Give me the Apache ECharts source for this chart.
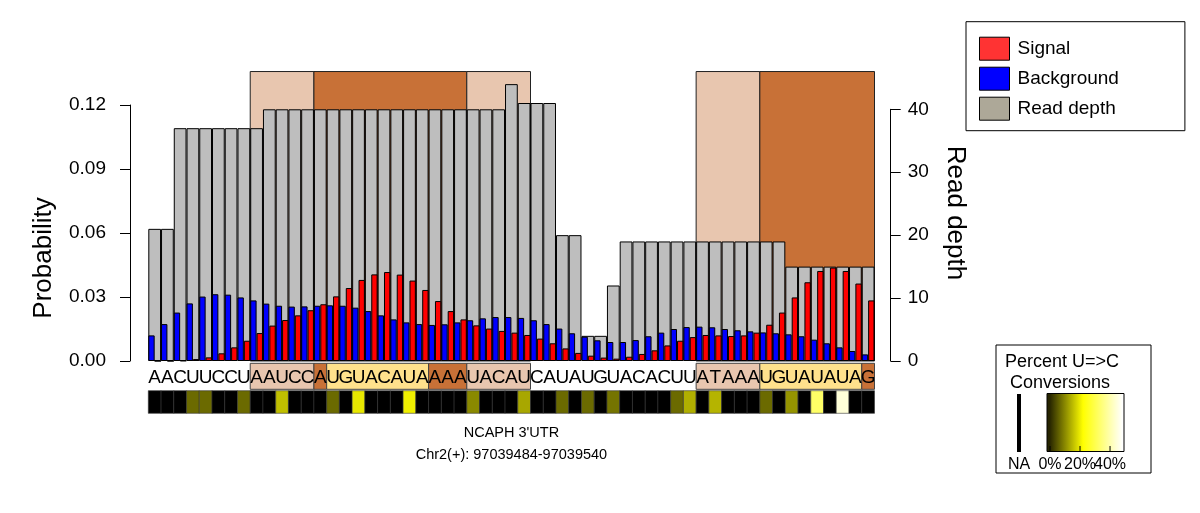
<!DOCTYPE html>
<html>
<head>
<meta charset="utf-8">
<title>NCAPH 3'UTR</title>
<script src="https://cdn.jsdelivr.net/npm/echarts@6/dist/echarts.min.js"></script>
<style>
  html, body { margin: 0; padding: 0; background: #fff; }
  #main { width: 1200px; height: 513px; }
</style>
</head>
<body>
<div id="main"></div>
<script>
// sequence of the window, one letter per position
var seqText = 'AACUUCCU' + 'AAUCC' + 'A' + 'UGUACAUA' + 'AAA' + 'UACAU' +
              'CAUAUGUACACUU' + 'ATAAA' + 'UGUAUAUA' + 'G';
var seqLetters = seqText.split('');
var categories = seqLetters.map(function (s, i) { return String(i); });

// read depth (right axis)
var readDepth = [21, 21, 37, 37, 37, 37, 37, 37, 37, 40,
                 40, 40, 40, 40, 40, 40, 40, 40, 40, 40,
                 40, 40, 40, 40, 40, 40, 40, 40, 44, 41,
                 41, 41, 20, 20, 4, 4, 12, 19, 19, 19,
                 19, 19, 19, 19, 19, 19, 19, 19, 19, 19,
                 15, 15, 15, 15, 15, 15, 15];

// probability, background (blue)
var background = [0.0120, 0.0173, 0.0227, 0.0270, 0.0302, 0.0313, 0.0311, 0.0298, 0.0284, 0.0269,
                  0.0259, 0.0255, 0.0256, 0.0259, 0.0261, 0.0259, 0.0250, 0.0234, 0.0214, 0.0195,
                  0.0181, 0.0173, 0.0169, 0.0172, 0.0181, 0.0191, 0.0200, 0.0206, 0.0206, 0.0202,
                  0.0191, 0.0173, 0.0152, 0.0130, 0.0114, 0.0097, 0.0089, 0.0089, 0.0098, 0.0116,
                  0.0133, 0.0150, 0.0159, 0.0161, 0.0158, 0.0150, 0.0144, 0.0139, 0.0134, 0.0130,
                  0.0125, 0.0116, 0.0100, 0.0083, 0.0064, 0.0047, 0.0031];

// probability, signal (red)
var signal = [0.0000, 0.0000, 0.0002, 0.0009, 0.0017, 0.0036, 0.0064, 0.0095, 0.0131, 0.0166,
              0.0192, 0.0214, 0.0238, 0.0266, 0.0303, 0.0342, 0.0380, 0.0406, 0.0417, 0.0405,
              0.0377, 0.0333, 0.0281, 0.0234, 0.0195, 0.0167, 0.0152, 0.0141, 0.0133, 0.0122,
              0.0105, 0.0083, 0.0059, 0.0038, 0.0025, 0.0016, 0.0011, 0.0020, 0.0033, 0.0050,
              0.0073, 0.0095, 0.0112, 0.0122, 0.0120, 0.0117, 0.0120, 0.0133, 0.0170, 0.0227,
              0.0298, 0.0369, 0.0422, 0.0438, 0.0422, 0.0363, 0.0284];

// percent U=>C conversions, null = NA
var convPct = [null, null, null, 7.0, 7.0, null, null, 7.0, null, null,
               15.6, null, null, null, 7.0, null, 19.7, null, null, null,
               20.5, null, null, null, null, 10.1, null, null, null, 13.2,
               null, null, 7.0, null, 7.0, null, 8.0, null, null, null,
               null, 7.0, 14.0, null, 14.5, null, null, null, 7.0, null,
               11.3, null, 32.4, null, 44.0, null, null];

// boxes: [first pos, last pos, kind]  kind 0 = light, 1 = dark, 2 = yellow
var motifBoxes = [[8, 12, 0], [13, 24, 1], [25, 29, 0], [43, 47, 0], [48, 56, 1]];
var seqBoxes = [[8, 12, 0], [13, 13, 1], [14, 21, 2], [22, 24, 1], [25, 29, 0],
                [43, 47, 0], [48, 55, 2], [56, 56, 1]];
var boxColors = ['#E8C6AF', '#C87137', '#FFE18C'];
var boxTop = 46;

var probTicks = [0, 0.03, 0.06, 0.09, 0.12];
var depthTicks = [0, 10, 20, 30, 40];
var convTicks = [0, 20, 40];

// colour ramp for conversions
var rampStops = [[0, [38, 36, 0]], [22, [255, 255, 0]], [48, [255, 255, 255]]];
function convColor(p) {
  if (p == null) return '#000000';
  if (p <= rampStops[0][0]) return 'rgb(' + rampStops[0][1].join(',') + ')';
  for (var i = 1; i < rampStops.length; i++) {
    if (p <= rampStops[i][0]) {
      var a = rampStops[i - 1], b = rampStops[i];
      var t = (p - a[0]) / (b[0] - a[0]);
      var c = a[1].map(function (v, k) { return Math.round(v + (b[1][k] - v) * t); });
      return 'rgb(' + c.join(',') + ')';
    }
  }
  return 'rgb(' + rampStops[rampStops.length - 1][1].join(',') + ')';
}

var FONT = '"Liberation Sans", Arial, Helvetica, sans-serif';
var L = 148.3, R = 1200 - 874.5;

function spanRect(api, start, end, top, bottom) {
  var bw = api.size([1, 0])[0];
  var p0 = api.coord([start, top]);
  var p1 = api.coord([end, bottom]);
  return { x: p0[0] - bw / 2, y: p0[1], width: p1[0] - p0[0] + bw, height: p1[1] - p0[1] };
}

function label(text, x, y, size, rot) {
  return { type: 'text', x: x, y: y, rotation: rot || 0,
    style: { text: text, font: size + 'px ' + FONT, fill: '#000',
      align: 'center', verticalAlign: 'middle', textAlign: 'center', textVerticalAlign: 'middle' } };
}

// legend for conversions (drawn by hand)
var legX0 = 1047, legX1 = 1124, legMin = -2, legMax = 49.3;
function legX(p) { return legX0 + (p - legMin) / (legMax - legMin) * (legX1 - legX0); }
var gradStops = rampStops.map(function (s) {
  return { offset: (s[0] - legMin) / (legMax - legMin), color: 'rgb(' + s[1].join(',') + ')' };
});
gradStops.unshift({ offset: 0, color: convColor(legMin) });
gradStops.push({ offset: 1, color: convColor(legMax) });

var graphics = [
  label('Probability', 44, 258, 26, Math.PI / 2),
  label('Read depth', 955, 213, 26, -Math.PI / 2),
  label("NCAPH 3'UTR", 511.4, 433, 14.5),
  label('Chr2(+): 97039484-97039540', 511.4, 455, 14.5),
  { type: 'rect', shape: { x: 996, y: 345, width: 155, height: 128 },
    style: { fill: '#fff', stroke: '#000', lineWidth: 1 } },
  label('Percent U=>C', 1062, 362, 18),
  label('Conversions', 1060, 383, 18),
  { type: 'rect', shape: { x: 1017, y: 394, width: 4, height: 58 },
    style: { fill: '#000' } },
  { type: 'rect', shape: { x: legX0, y: 393.5, width: legX1 - legX0, height: 58 },
    style: { fill: { type: 'linear', x: 0, y: 0, x2: 1, y2: 0, colorStops: gradStops }, stroke: '#000', lineWidth: 1 } },
  label('NA', 1019, 465, 16)
];
convTicks.forEach(function (p) {
  graphics.push({ type: 'line', shape: { x1: legX(p), y1: 451.5, x2: legX(p), y2: 446 },
    style: { stroke: '#000', lineWidth: 1 } });
  graphics.push(label(p + '%', legX(p), 465, 16));
});

var chart = echarts.init(document.getElementById('main'));
var option = {
  animation: false,
  backgroundColor: '#fff',
  textStyle: { fontFamily: FONT },
  legend: {
    orient: 'vertical',
    left: 966, top: 21.7,
    padding: [15, 66, 10, 13],
    itemWidth: 30, itemHeight: 23, itemGap: 6,
    borderColor: '#000', borderWidth: 1, backgroundColor: '#fff',
    selectedMode: false,
    icon: 'rect',
    textStyle: { fontSize: 19, color: '#000', padding: [0, 0, 0, 3] },
    data: [
      { name: 'Signal', itemStyle: { color: '#FF3333', borderColor: '#000', borderWidth: 1 } },
      { name: 'Background', itemStyle: { color: '#0000FF', borderColor: '#000', borderWidth: 1 } },
      { name: 'Read depth', itemStyle: { color: '#ADA898', borderColor: '#000', borderWidth: 1 } }
    ]
  },
  grid: [
    { left: L, right: R, top: 105, bottom: 152 },
    { left: L, right: R, top: 109.3, bottom: 152 },
    { left: L, right: R, top: 363.3, height: 26 },
    { left: L, right: R, top: 390.7, height: 22.6 }
  ],
  xAxis: [0, 1, 2, 3].map(function (g) {
    return { type: 'category', gridIndex: g, data: categories, show: false };
  }),
  yAxis: [
    {
      type: 'value', gridIndex: 0, position: 'left', offset: 18.3,
      min: probTicks[0], max: probTicks[probTicks.length - 1], interval: probTicks[1] - probTicks[0],
      axisLine: { show: true, lineStyle: { color: '#000', width: 1 } },
      axisTick: { show: true, length: 10, lineStyle: { color: '#000' } },
      axisLabel: { color: '#000', fontSize: 19, margin: 24, formatter: function (v) { return v.toFixed(2); } },
      splitLine: { show: false }
    },
    {
      type: 'value', gridIndex: 1, position: 'right', offset: 16.2,
      min: depthTicks[0], max: depthTicks[depthTicks.length - 1], interval: depthTicks[1] - depthTicks[0],
      axisLine: { show: true, lineStyle: { color: '#000', width: 1 } },
      axisTick: { show: true, length: 10, lineStyle: { color: '#000' } },
      axisLabel: { color: '#000', fontSize: 19, margin: 17 },
      splitLine: { show: false }
    },
    { type: 'value', gridIndex: 2, min: 0, max: 1, show: false },
    { type: 'value', gridIndex: 3, min: 0, max: 1, show: false }
  ],
  series: [
    {
      type: 'custom', name: 'motifs', xAxisIndex: 1, yAxisIndex: 1, z: 1, silent: true,
      encode: { x: [0, 1], y: 2 },
      data: motifBoxes,
      renderItem: function (params, api) {
        return { type: 'rect', shape: spanRect(api, api.value(0), api.value(1), boxTop, 0),
          style: { fill: boxColors[api.value(2)], stroke: '#222', lineWidth: 1 } };
      }
    },
    {
      type: 'bar', name: 'Read depth', xAxisIndex: 1, yAxisIndex: 1, z: 2, clip: false,
      barCategoryGap: '0%',
      itemStyle: { color: '#BEBEBE', borderColor: '#000', borderWidth: 1 },
      data: readDepth
    },
    {
      type: 'bar', name: 'Background', xAxisIndex: 0, yAxisIndex: 0, z: 3,
      barCategoryGap: '0%', barGap: '0%',
      itemStyle: { color: '#0000FF', borderColor: '#000', borderWidth: 1 },
      data: background
    },
    {
      type: 'bar', name: 'Signal', xAxisIndex: 0, yAxisIndex: 0, z: 3,
      barCategoryGap: '0%', barGap: '0%',
      itemStyle: { color: '#FF0000', borderColor: '#000', borderWidth: 1 },
      data: signal
    },
    {
      type: 'custom', name: 'seqBoxes', xAxisIndex: 2, yAxisIndex: 2, z: 1, silent: true,
      encode: { x: [0, 1], y: 2 },
      data: seqBoxes,
      renderItem: function (params, api) {
        return { type: 'rect', shape: spanRect(api, api.value(0), api.value(1), 1, 0),
          style: { fill: boxColors[api.value(2)], stroke: '#444', lineWidth: 1 } };
      }
    },
    {
      type: 'custom', name: 'sequence', xAxisIndex: 2, yAxisIndex: 2, z: 2, silent: true,
      data: categories.map(function (c, i) { return [i, 0.5]; }),
      renderItem: function (params, api) {
        var p = api.coord([api.value(0), 0.45]);
        return { type: 'text', x: p[0], y: p[1],
          style: { text: seqLetters[params.dataIndex], font: '19px ' + FONT, fill: '#000',
            align: 'center', verticalAlign: 'middle', textAlign: 'center', textVerticalAlign: 'middle' } };
      }
    },
    {
      type: 'custom', name: 'conversions', xAxisIndex: 3, yAxisIndex: 3, z: 1, silent: true,
      data: categories.map(function (c, i) { return [i, 0.5]; }),
      renderItem: function (params, api) {
        var i = api.value(0);
        return { type: 'rect', shape: spanRect(api, i, i, 1, 0),
          style: { fill: convColor(convPct[params.dataIndex]), stroke: '#333', lineWidth: 0.6 } };
      }
    }
  ],
  graphic: graphics
};
chart.setOption(option);
</script>
</body>
</html>
